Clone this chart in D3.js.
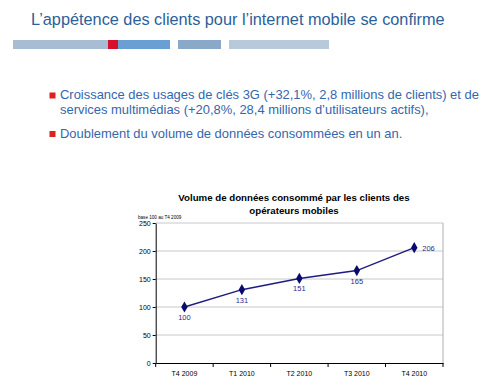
<!DOCTYPE html>
<html><head><meta charset="utf-8">
<script src="https://cdn.jsdelivr.net/npm/d3@7"></script>
<style>body{margin:0;background:#fff}svg{display:block}</style>
</head><body>
<svg id="c" width="500" height="387"></svg>
<script>
const categories = ["T4 2009","T1 2010","T2 2010","T3 2010","T4 2010"];
const values = [100,131,151,165,206];
const yTicks = [0,50,100,150,200,250];
const headerTitle = "L\u2019appétence des clients pour l\u2019internet mobile se confirme";
const bullets = [
  ["Croissance des usages de clés 3G (+32,1%, 2,8 millions de clients) et de","services multimédias (+20,8%, 28,4 millions d\u2019utilisateurs actifs),"],
  ["Doublement du volume de données consommées en un an."]
];
const chartTitle = ["Volume de données  consommé par les clients des","opérateurs mobiles"];
const baseNote = "base 100 au T4 2009";

const svg = d3.select("#c");
const F = "Arial, 'Liberation Sans', sans-serif";

// header
svg.append("text").attr("x",31).attr("y",25).attr("font-family",F).attr("font-size",16.3)
  .attr("fill","#2d5f99").text(headerTitle);
const bars = [[13,108,"#a7bdd3"],[108,118,"#d6102c"],[118,170,"#6a9fd3"],[178,221,"#8aa9c9"],[229,329,"#b8c9dc"]];
svg.selectAll("rect.hb").data(bars).enter().append("rect")
  .attr("x",d=>d[0]).attr("y",40).attr("width",d=>d[1]-d[0]).attr("height",9).attr("fill",d=>d[2]);

// bullets
const lineY = [[99,113.5],[137.5]];
bullets.forEach((b,i)=>{
  svg.append("rect").attr("x",49.5).attr("y",lineY[i][0]-6.5).attr("width",6).attr("height",6).attr("fill","#e0201c");
  b.forEach((t,j)=>{
    svg.append("text").attr("x",60).attr("y",lineY[i][j]).attr("font-family",F).attr("font-size",12.95)
      .attr("fill","#3566ad").text(t);
  });
});

// chart
const m = {l:155.7, r:443, t:223, b:363};
const x = d3.scaleBand().domain(categories).range([m.l,m.r]);
const y = d3.scaleLinear().domain([0,250]).range([m.b,m.t]);

svg.append("text").attr("x",294).attr("y",201).attr("text-anchor","middle").attr("font-family",F)
  .attr("font-weight","bold").attr("font-size",9.7).attr("fill","#000").text(chartTitle[0]);
svg.append("text").attr("x",294).attr("y",214).attr("text-anchor","middle").attr("font-family",F)
  .attr("font-weight","bold").attr("font-size",9.7).attr("fill","#000").text(chartTitle[1]);
svg.append("text").attr("x",138).attr("y",219).attr("font-family",F).attr("font-size",4.6)
  .attr("fill","#000").text(baseNote);

// grid
svg.selectAll("line.g").data(yTicks.filter(d=>d>0)).enter().append("line")
  .attr("x1",m.l).attr("x2",m.r).attr("y1",d=>y(d)).attr("y2",d=>y(d))
  .attr("stroke","#c8c8c8").attr("stroke-width",1);
svg.append("line").attr("x1",m.r).attr("x2",m.r).attr("y1",m.t).attr("y2",m.b).attr("stroke","#b0b0b0");

const ya = svg.append("g").attr("transform",`translate(${m.l},0)`)
  .call(d3.axisLeft(y).tickValues(yTicks).tickSize(3).tickSizeOuter(0).tickPadding(2));
ya.select(".domain").attr("stroke","#000");
ya.selectAll("text").attr("font-family",F).attr("font-size",7).attr("fill","#000");

const xa = svg.append("g").attr("transform",`translate(0,${m.b})`)
  .call(d3.axisBottom(x).tickSize(0).tickPadding(8));
xa.select(".domain").attr("stroke","#000");
xa.selectAll("text").attr("font-family",F).attr("font-size",7).attr("fill","#000");
const bounds = categories.map(c=>x(c)).concat([m.r]);
svg.selectAll("line.xt").data(bounds).enter().append("line")
  .attr("x1",d=>d).attr("x2",d=>d).attr("y1",m.b).attr("y2",m.b+4).attr("stroke","#000");

const cx = d=>x(d)+x.bandwidth()/2;
svg.append("path").datum(values.map((v,i)=>[categories[i],v]))
  .attr("d",d3.line().x(d=>cx(d[0])).y(d=>y(d[1])))
  .attr("fill","none").attr("stroke","#1f1c80").attr("stroke-width",1.5);
svg.selectAll("path.pt").data(values).enter().append("path")
  .attr("d",d3.symbol(d3.symbolDiamond,36))
  .attr("transform",(d,i)=>`translate(${cx(categories[i])},${y(d)})`)
  .attr("fill","#0a0a6e");
svg.selectAll("text.lbl").data(values).enter().append("text")
  .attr("x",(d,i)=>i===4?cx(categories[i])+8:cx(categories[i]))
  .attr("y",(d,i)=>i===4?y(d)+3:y(d)+13)
  .attr("text-anchor",(d,i)=>i===4?"start":"middle")
  .attr("font-family",F).attr("font-size",7.5).attr("fill","#2c2c8c").text(d=>d);
</script>
</body></html>
